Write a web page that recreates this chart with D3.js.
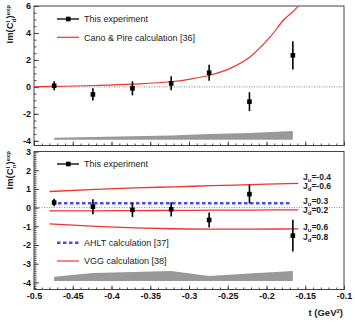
<!DOCTYPE html>
<html>
<head>
<meta charset="utf-8">
<script src="https://cdn.jsdelivr.net/npm/d3@7"></script>
<style>
  body { margin: 0; background: #fff; }
  text { font-family: "Liberation Sans", Arial, sans-serif; }
</style>
</head>
<body>
<div id="chart"></div>
<script>
// ---- data ----
var tVals = [-0.474, -0.424, -0.373, -0.323, -0.274, -0.222, -0.166];

// deuteron (top panel)
var dVals = [0.08, -0.56, -0.11, 0.26, 1.05, -1.1, 2.34];
var dErr  = [0.34, 0.46, 0.52, 0.52, 0.6, 0.7, 1.05];
var dSysTop = [-3.77, -3.72, -3.66, -3.6, -3.5, -3.42, -3.28];
var dSysBase = -3.92;

// Cano & Pire curve
var caT = [-0.5, -0.474, -0.42, -0.372, -0.324, -0.298, -0.272, -0.247, -0.221, -0.195, -0.178, -0.159, -0.153];
var caV = [0.0, 0.03, 0.1, 0.2, 0.38, 0.58, 0.88, 1.37, 2.24, 3.72, 4.96, 6.0, 6.5];

// neutron (bottom panel)
var nVals = [0.27, 0.05, -0.12, -0.09, -0.66, 0.72, -1.5];
var nErr  = [0.2, 0.4, 0.38, 0.38, 0.4, 0.5, 0.85];
var nSysTop = [-3.7, -3.5, -3.45, -3.39, -3.66, -3.53, -3.39];
var nSysBase = -3.93;

// VGG curves (three Ju/Jd choices)
var vggT = [-0.48, -0.42, -0.37, -0.32, -0.27, -0.22, -0.159];
var vggA = [0.86, 0.97, 1.05, 1.11, 1.17, 1.23, 1.30];
var vggB = [-0.18, -0.17, -0.16, -0.15, -0.14, -0.13, -0.12];
var vggC = [-0.87, -1.0, -1.08, -1.13, -1.15, -1.15, -1.14];
var vggJu = ["-0.4", "0.3", "0.6"];
var vggJd = ["-0.6", "0.2", "0.8"];

// AHLT
var ahltT = [-0.469, -0.167];
var ahltV = [0.23, 0.23];

var xTicks = [-0.5, -0.45, -0.4, -0.35, -0.3, -0.25, -0.2, -0.15, -0.1];
var yTopTicks = [-4, -2, 0, 2, 4, 6];
var yBotTicks = [-4, -3, -2, -1, 0, 1, 2, 3];

// ---- layout ----
var W = 355, H = 322;
var red = "#ee3333", blue = "#4a4aee", grey = "#999999";

var svg = d3.select("#chart").append("svg")
  .attr("width", W)
  .attr("height", H);

var x = d3.scaleLinear().domain([-0.5, -0.1]).range([34, 344]);
var yTop = d3.scaleLinear().domain([-4.35, 6]).range([145.5, 6]);
var yBot = d3.scaleLinear().domain([-4.38, 3]).range([289.5, 151.5]);

function fmt(d) { return String(+d.toFixed(2)); }

function panel(y, id, majors, minorStep, showX) {
  var g = svg.append("g");
  var y0 = y.range()[0], y1 = y.range()[1];

  svg.append("clipPath").attr("id", id)
    .append("rect")
    .attr("x", x(-0.5)).attr("y", y1)
    .attr("width", x(-0.1) - x(-0.5)).attr("height", y0 - y1);

  // dotted zero line
  g.append("line")
    .attr("x1", x(-0.5)).attr("x2", x(-0.1))
    .attr("y1", y(0)).attr("y2", y(0))
    .attr("stroke", "#555").attr("stroke-width", 0.7)
    .attr("stroke-dasharray", "1,1.5");

  // y axis major / minor (ticks inside frame)
  var d = y.domain();
  var minors = d3.range(Math.ceil(d[0] / minorStep) * minorStep, d[1] + 1e-9, minorStep);
  g.append("g")
    .attr("transform", "translate(" + x(-0.5) + ",0)")
    .call(d3.axisLeft(y).tickValues(minors).tickFormat("").tickSizeInner(-2.5).tickSizeOuter(0))
    .call(function (s) { s.select(".domain").remove(); });
  g.append("g")
    .attr("class", "yax")
    .attr("transform", "translate(" + x(-0.5) + ",0)")
    .call(d3.axisLeft(y).tickValues(majors).tickFormat(fmt).tickSizeInner(-5).tickSizeOuter(0).tickPadding(3))
    .call(function (s) { s.select(".domain").remove(); });

  // x axis
  var xMinors = d3.range(-0.5, -0.1 + 1e-9, 0.01);
  g.append("g")
    .attr("transform", "translate(0," + y0 + ")")
    .call(d3.axisBottom(x).tickValues(xMinors).tickFormat("").tickSizeInner(-2).tickSizeOuter(0))
    .call(function (s) { s.select(".domain").remove(); });
  g.append("g")
    .attr("class", "xax")
    .attr("transform", "translate(0," + y0 + ")")
    .call(d3.axisBottom(x).tickValues(xTicks).tickFormat(showX ? fmt : "").tickSizeInner(-4).tickSizeOuter(0).tickPadding(3.5))
    .call(function (s) { s.select(".domain").remove(); });

  g.selectAll(".tick line").attr("stroke", "#222").attr("stroke-width", 0.8);
  g.selectAll(".tick text")
    .attr("font-family", "Liberation Sans, Arial, sans-serif")
    .attr("font-weight", "bold")
    .attr("font-size", "9px")
    .attr("fill", "#111");

  // frame
  g.append("rect")
    .attr("x", x(-0.5)).attr("y", y1)
    .attr("width", x(-0.1) - x(-0.5)).attr("height", y0 - y1)
    .attr("fill", "none").attr("stroke", "#444").attr("stroke-width", 1);
  return g;
}

function band(g, y, tops, base) {
  var area = d3.area()
    .x(function (d) { return x(d.t); })
    .y0(function () { return y(base); })
    .y1(function (d) { return y(d.v); });
  g.append("path")
    .datum(tVals.map(function (t, i) { return { t: t, v: tops[i] }; }))
    .attr("d", area)
    .attr("fill", grey);
}

function curve(g, y, ts, vs, color, clip, dash, width, kind) {
  var line = d3.line()
    .x(function (d) { return x(d[0]); })
    .y(function (d) { return y(d[1]); })
    .curve(kind || d3.curveLinear);
  var p = g.append("path")
    .datum(ts.map(function (t, i) { return [t, vs[i]]; }))
    .attr("d", line)
    .attr("fill", "none")
    .attr("stroke", color)
    .attr("stroke-width", width || 1.2)
    .attr("clip-path", "url(#" + clip + ")");
  if (dash) p.attr("stroke-dasharray", dash);
}

function points(g, y, vals, errs) {
  var pts = g.selectAll(null)
    .data(tVals.map(function (t, i) { return { t: t, v: vals[i], e: errs[i] }; }))
    .enter().append("g");
  pts.append("line")
    .attr("x1", function (d) { return x(d.t); })
    .attr("x2", function (d) { return x(d.t); })
    .attr("y1", function (d) { return y(d.v - d.e); })
    .attr("y2", function (d) { return y(d.v + d.e); })
    .attr("stroke", "#000").attr("stroke-width", 1.6);
  pts.append("rect")
    .attr("x", function (d) { return x(d.t) - 2.3; })
    .attr("y", function (d) { return y(d.v) - 2.3; })
    .attr("width", 4.6).attr("height", 4.6)
    .attr("fill", "#000");
}

function legendEntry(g, yPix, kind, label) {
  if (kind === "pt") {
    g.append("line").attr("x1", 57).attr("x2", 79).attr("y1", yPix).attr("y2", yPix)
      .attr("stroke", "#000").attr("stroke-width", 1.3);
    g.append("rect").attr("x", 66).attr("y", yPix - 2.3).attr("width", 4.6).attr("height", 4.6).attr("fill", "#000");
  } else if (kind === "red") {
    g.append("line").attr("x1", 57).attr("x2", 79).attr("y1", yPix).attr("y2", yPix)
      .attr("stroke", red).attr("stroke-width", 1.2);
  } else {
    g.append("line").attr("x1", 57).attr("x2", 79).attr("y1", yPix).attr("y2", yPix)
      .attr("stroke", blue).attr("stroke-width", 2.6).attr("stroke-dasharray", "3.5,2.5");
  }
  g.append("text").attr("x", 84).attr("y", yPix + 3.2)
    .attr("font-size", "9px").attr("fill", "#222").text(label);
}

// ---- top panel ----
var gT = panel(yTop, "clipTop", yTopTicks, 0.5, false);
band(gT, yTop, dSysTop, dSysBase);
curve(gT, yTop, caT, caV, red, "clipTop", null, 1.2, d3.curveMonotoneX);
points(gT, yTop, dVals, dErr);
legendEntry(gT, 19, "pt", "This experiment");
legendEntry(gT, 37.3, "red", "Cano & Pire calculation [36]");

// ---- bottom panel ----
var gB = panel(yBot, "clipBot", yBotTicks, 0.1, true);
band(gB, yBot, nSysTop, nSysBase);
var vggSets = [vggA, vggB, vggC];
vggSets.forEach(function (vs) { curve(gB, yBot, vggT, vs, red, "clipBot", null, 1.3, d3.curveMonotoneX); });
curve(gB, yBot, ahltT, ahltV, blue, "clipBot", "3.5,2.5", 2.6);
points(gB, yBot, nVals, nErr);
legendEntry(gB, 164, "pt", "This experiment");
legendEntry(gB, 242.7, "blue", "AHLT calculation [37]");
legendEntry(gB, 261, "red", "VGG calculation [38]");

// Ju / Jd labels next to the VGG curve ends
var labelShift = [-2, -4, 3];
vggSets.forEach(function (vs, i) {
  var yc = yBot(vs[vs.length - 1]) + labelShift[i];
  [["u", vggJu[i], -4.6], ["d", vggJd[i], 4.6]].forEach(function (r) {
    var t = gB.append("text")
      .attr("x", 303).attr("y", yc + r[2] + 3)
      .attr("font-size", "8.5px").attr("font-weight", "bold").attr("fill", "#222");
    t.append("tspan").text("J");
    t.append("tspan").attr("font-size", "6px").attr("dy", 2).text(r[0]);
    t.append("tspan").attr("dy", -2).text("=" + r[1]);
  });
});

// ---- axis titles ----
function yTitle(yEnd, sub) {
  var t = svg.append("text")
    .attr("transform", "translate(13," + yEnd + ") rotate(-90)")
    .attr("text-anchor", "end")
    .attr("font-size", "9.5px").attr("font-weight", "bold").attr("fill", "#222");
  t.append("tspan").text("Im(C");
  t.append("tspan").attr("font-size", "6px").attr("dy", -3.5).text("I");
  t.append("tspan").attr("font-size", "6px").attr("dx", -1.5).attr("dy", 6).text(sub);
  t.append("tspan").attr("dy", -2.5).text(")");
  t.append("tspan").attr("font-size", "6px").attr("dy", -3.5).text("exp");
}
yTitle(5, "d");
yTitle(151, "n");

var xt = svg.append("text")
  .attr("x", 343).attr("y", 316)
  .attr("text-anchor", "end")
  .attr("font-size", "9.5px").attr("font-weight", "bold").attr("fill", "#222");
xt.append("tspan").text("t (GeV");
xt.append("tspan").attr("font-size", "6px").attr("dy", -3.5).text("2");
xt.append("tspan").attr("dy", 3.5).text(")");
</script>
</body>
</html>
